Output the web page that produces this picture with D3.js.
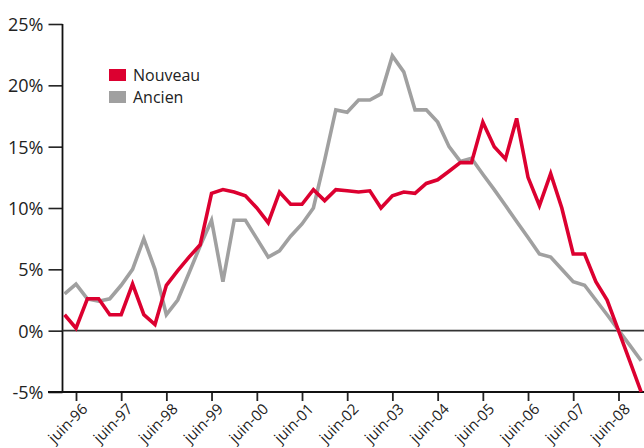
<!DOCTYPE html>
<html>
<head>
<meta charset="utf-8">
<script src="https://cdnjs.cloudflare.com/ajax/libs/d3/7.8.5/d3.min.js"></script>
<style>
  body { margin: 0; background: #fff; }
  svg { display: block; font-family: "Open Sans", sans-serif; }
</style>
</head>
<body>
<div id="chart"></div>
<script>
// trimestres de mars 1996 à décembre 2008
var firstQuarter = new Date(1996, 2, 1);
var lastQuarter = new Date(2008, 11, 1);

var nouveau = [1.3, 0.2, 2.6, 2.6, 1.3, 1.3, 3.8, 1.3, 0.5, 3.7,
    4.9, 6.0, 7.0, 11.2, 11.5, 11.3, 11.0, 10.0, 8.8, 11.3,
    10.3, 10.3, 11.5, 10.6, 11.5, 11.4, 11.3, 11.4, 10.0, 11.0,
    11.3, 11.2, 12.0, 12.3, 13.0, 13.7, 13.7, 17.0, 15.0, 14.0,
    17.3, 12.5, 10.2, 12.8, 10.0, 6.25, 6.25, 4.0, 2.5, 0.0,
    -2.5, -5.0];

var ancien = [3.0, 3.8, 2.6, 2.4, 2.6, 3.7, 5.0, 7.5, 5.0, 1.3,
    2.5, 4.7, 6.9, 9.0, 4.0, 9.0, 9.0, 7.5, 6.0, 6.5,
    7.7, 8.7, 10.0, 13.9, 18.0, 17.8, 18.8, 18.8, 19.3, 22.4,
    21.1, 18.0, 18.0, 17.0, 15.0, 13.8, 14.05, 12.75, 11.5, 10.2,
    8.9, 7.6, 6.25, 6.0, 5.0, 4.0, 3.7, 2.5, 1.3, 0.05,
    -1.2, -2.45];

var tickYears = [1996, 1997, 1998, 1999, 2000, 2001, 2002, 2003, 2004, 2005, 2006, 2007, 2008];
var tickLabels = ["juin-96", "juin-97", "juin-98", "juin-99", "juin-00", "juin-01", "juin-02",
    "juin-03", "juin-04", "juin-05", "juin-06", "juin-07", "juin-08"];
var yTicks = [-5, 0, 5, 10, 15, 20, 25];

var seriesNames = ["Nouveau", "Ancien"];
var seriesColors = ["#dc0030", "#a0a0a0"];

var width = 644, height = 448;
var axisX = 62.5, axisBottom = 392;

// un point tous les 3 mois (mars, juin, sept., déc.)
var quarters = d3.timeMonth.range(firstQuarter, d3.timeMonth.offset(lastQuarter, 1), 3);

var x = d3.scaleTime()
    .domain([new Date(1996, 5, 1), new Date(2008, 5, 1)])
    .range([76, 618.5]);

var y = d3.scaleLinear()
    .domain([-5, 25])
    .range([axisBottom, 24]);

var svg = d3.select("#chart")
    .append("svg")
    .attr("width", width)
    .attr("height", height);

// axe Y
var yAxis = d3.axisLeft(y)
    .tickValues(yTicks)
    .tickSize(14)
    .tickPadding(5)
    .tickFormat(function (d) { return d + "%"; });

var gy = svg.append("g")
    .attr("transform", "translate(" + axisX + ",0)")
    .call(yAxis);
gy.select(".domain").remove();
gy.selectAll(".tick line").attr("stroke", "#222").attr("stroke-width", 1.6);
gy.selectAll(".tick text")
    .style("font-size", "18px")
    .style("font-family", "'Open Sans', sans-serif")
    .attr("fill", "#222")
    .attr("dy", "0.36em");

svg.append("line")
    .attr("x1", axisX).attr("x2", axisX)
    .attr("y1", y(25)).attr("y2", axisBottom)
    .attr("stroke", "#111").attr("stroke-width", 1.8);

// ligne du zéro
svg.append("line")
    .attr("x1", axisX).attr("x2", width)
    .attr("y1", y(0)).attr("y2", y(0))
    .attr("stroke", "#333").attr("stroke-width", 1.6);

// axe X
var xAxis = d3.axisBottom(x)
    .tickValues(tickYears.map(function (yr) { return new Date(yr, 5, 1); }))
    .tickSize(9)
    .tickFormat(function (d, i) { return tickLabels[i]; });

var gx = svg.append("g")
    .attr("transform", "translate(0," + axisBottom + ")")
    .call(xAxis);
gx.select(".domain").remove();
gx.selectAll(".tick line").attr("stroke", "#222").attr("stroke-width", 1.8);
gx.selectAll(".tick text")
    .style("font-size", "15px")
    .style("font-family", "'Open Sans', sans-serif")
    .attr("fill", "#222")
    .style("text-anchor", "end")
    .attr("x", 0)
    .attr("y", 0)
    .attr("dy", 0)
    .attr("transform", "translate(12,18) rotate(-45)");

svg.append("line")
    .attr("x1", 48).attr("x2", width)
    .attr("y1", axisBottom).attr("y2", axisBottom)
    .attr("stroke", "#111").attr("stroke-width", 1.8);

// courbes
var line = d3.line()
    .x(function (d, i) { return x(quarters[i]); })
    .y(function (d) { return y(d); });

svg.append("path")
    .datum(ancien)
    .attr("fill", "none")
    .attr("stroke", seriesColors[1])
    .attr("stroke-width", 3.6)
    .attr("stroke-linejoin", "miter")
    .attr("d", line);

svg.append("path")
    .datum(nouveau)
    .attr("fill", "none")
    .attr("stroke", seriesColors[0])
    .attr("stroke-width", 3.6)
    .attr("stroke-linejoin", "miter")
    .attr("d", line);

// légende
var legend = svg.append("g").attr("transform", "translate(109,69)");
seriesNames.forEach(function (name, i) {
    legend.append("rect")
        .attr("x", 0).attr("y", i * 22)
        .attr("width", 17).attr("height", 12)
        .attr("fill", seriesColors[i]);
    legend.append("text")
        .attr("x", 24).attr("y", i * 22 + 12)
        .style("font-size", "16px")
        .attr("fill", "#222")
        .text(name);
});
</script>
</body>
</html>
